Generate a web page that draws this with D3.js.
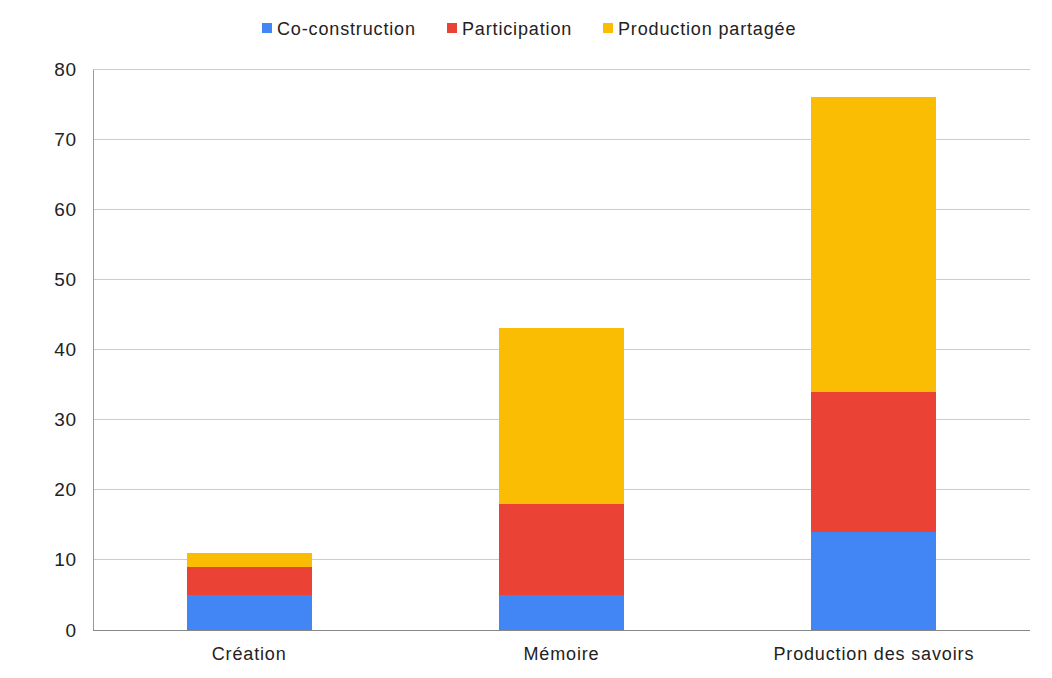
<!DOCTYPE html>
<html lang="fr">
<head>
<meta charset="UTF-8">
<title>Chart</title>
<script src="https://d3js.org/d3.v7.min.js"></script>
<style>
  body { margin: 0; background: #fff; }
  text { font-family: "Liberation Sans", Arial, sans-serif; fill: #222; letter-spacing: 0.85px; }
</style>
</head>
<body>
<div id="chart"></div>
<script>
var categories = ["Création", "Mémoire", "Production des savoirs"];
var seriesNames = ["Co-construction", "Participation", "Production partagée"];
var coConstruction = [5, 5, 14];
var participation = [4, 13, 20];
var productionPartagee = [2, 25, 42];
var yTicks = [0, 10, 20, 30, 40, 50, 60, 70, 80];
var colors = ["#4285F4", "#EA4335", "#FBBC04"];

var width = 1052, height = 678;
var margin = { top: 69, right: 22, bottom: 48, left: 93 };

var data = categories.map(function (c, i) {
  return {
    cat: c,
    "Co-construction": coConstruction[i],
    "Participation": participation[i],
    "Production partagée": productionPartagee[i]
  };
});

var svg = d3.select("#chart").append("svg")
  .attr("width", width).attr("height", height);

var x = d3.scaleBand()
  .domain(categories)
  .range([margin.left, width - margin.right])
  .paddingInner(0.6).paddingOuter(0.3);

var y = d3.scaleLinear()
  .domain([0, 80])
  .range([height - margin.bottom, margin.top]);

// grid
svg.append("g")
  .selectAll("line")
  .data(yTicks.filter(function (d) { return d > 0; }))
  .join("line")
  .attr("x1", margin.left).attr("x2", width - margin.right)
  .attr("y1", function (d) { return y(d); })
  .attr("y2", function (d) { return y(d); })
  .attr("stroke", "#cccccc").attr("stroke-width", 1)
  .attr("shape-rendering", "crispEdges");

var stack = d3.stack().keys(seriesNames)(data);

svg.append("g")
  .selectAll("g")
  .data(stack)
  .join("g")
  .attr("fill", function (d, i) { return colors[i]; })
  .selectAll("rect")
  .data(function (d) { return d; })
  .join("rect")
  .attr("x", function (d) { return x(d.data.cat); })
  .attr("width", x.bandwidth())
  .attr("y", function (d) { return y(d[1]); })
  .attr("height", function (d) { return y(d[0]) - y(d[1]); })
  .attr("shape-rendering", "crispEdges");

// left axis
var yAxis = svg.append("g")
  .attr("transform", "translate(" + margin.left + ",0)")
  .call(d3.axisLeft(y).tickValues(yTicks).tickSize(0).tickPadding(16));
yAxis.select(".domain").attr("stroke", "#999999").attr("shape-rendering", "crispEdges");
yAxis.selectAll("text").style("font-size", "19px").attr("fill", "#222");

// bottom axis
var xAxis = svg.append("g")
  .attr("transform", "translate(0," + (height - margin.bottom) + ")")
  .call(d3.axisBottom(x).tickSize(0).tickPadding(17));
xAxis.select(".domain").attr("stroke", "#888888").attr("d", "M" + margin.left + ",0.5H" + (width - margin.right))
  .attr("shape-rendering", "crispEdges");
xAxis.selectAll("text").style("font-size", "18px").attr("fill", "#222");

// legend
var legendX = [262, 447, 603];
var legend = svg.append("g");
var items = legend.selectAll("g")
  .data(seriesNames)
  .join("g")
  .attr("transform", function (d, i) { return "translate(" + legendX[i] + ",23)"; });
items.append("rect")
  .attr("width", 10).attr("height", 10)
  .attr("fill", function (d, i) { return colors[i]; });
items.append("text")
  .attr("x", 15).attr("y", 12)
  .style("font-size", "18px")
  .text(function (d) { return d; });
</script>
</body>
</html>
